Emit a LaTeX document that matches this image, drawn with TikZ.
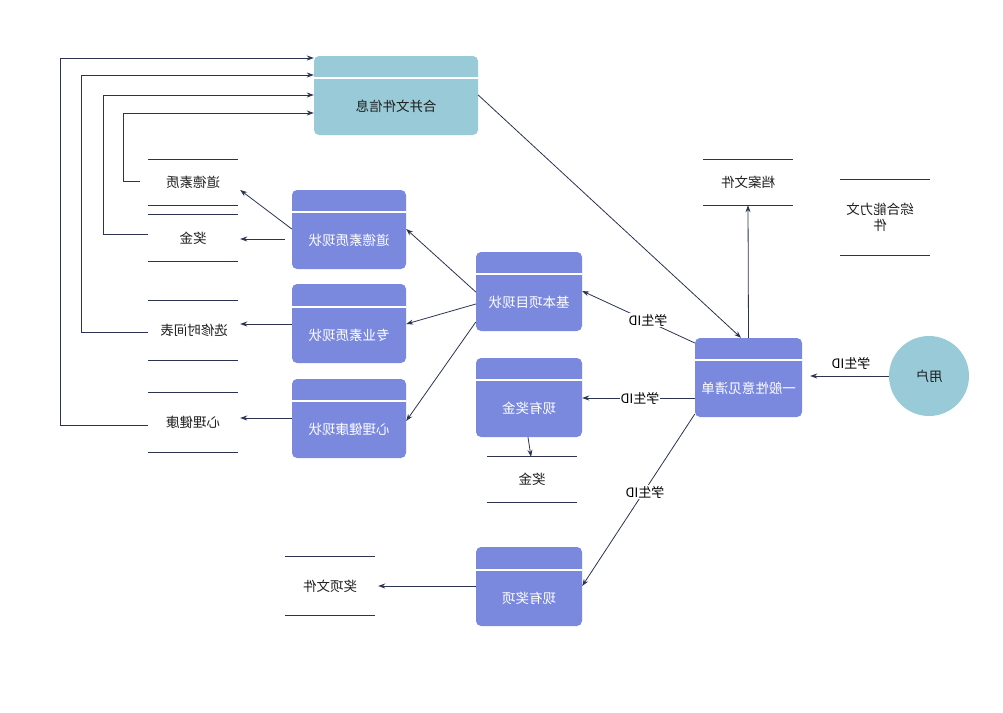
\documentclass[tikz,border=0pt]{standalone}
\usepackage{fontspec}
\setmainfont{Noto Sans CJK SC}
\usetikzlibrary{arrows.meta}
\definecolor{procc}{HTML}{7A89DE}
\definecolor{entc}{HTML}{98CAD8}
\definecolor{lnc}{HTML}{2B3350}
\definecolor{txc}{HTML}{1E1E1E}
\begin{document}
\begin{tikzpicture}[x=1pt,y=-1pt,
  font=\fontsize{13.5}{16}\selectfont,
  procbox/.style={fill=procc, rounded corners=5pt, inner sep=0pt},
  mergebox/.style={fill=entc, rounded corners=5pt, inner sep=0pt},
  divider/.style={draw=white, line width=1.2pt},
  ptext/.style={xscale=-1, text=white, inner sep=0pt},
  dtext/.style={xscale=-1, text=txc, inner sep=0pt},
  store/.style={inner sep=0pt, minimum width=90pt},
  sline/.style={draw=lnc, line width=0.9pt},
  arr/.style={draw=lnc, line width=0.8pt, -{Stealth[length=7pt,width=5pt]}},
  idlab/.style={xscale=-1, fill=white, text=black, inner sep=1pt, font=\fontsize{13}{15}\selectfont}]
\useasboundingbox (0,0) rectangle (1003,712);

% ---- merge box
\node[mergebox, minimum width=164pt, minimum height=79pt] (merge) at (396,95.5) {};
\draw[divider] (merge.west |- 0,78) -- (merge.east |- 0,78);
\node[dtext] (mergetx) at (396,106.5) {合并文件信息};

% ---- processes
\node[procbox, minimum width=114pt, minimum height=79pt] (moral) at (349,229.5) {};
\draw[divider] (moral.west |- 0,212) -- (moral.east |- 0,212);
\node[ptext] (moraltx) at (349,240.5) {道德素质现状};

\node[procbox, minimum width=114pt, minimum height=79pt] (prof) at (349,323.5) {};
\draw[divider] (prof.west |- 0,307) -- (prof.east |- 0,307);
\node[ptext] (proftx) at (349,335) {专业素质现状};

\node[procbox, minimum width=114pt, minimum height=79pt] (psy) at (349,418.5) {};
\draw[divider] (psy.west |- 0,401) -- (psy.east |- 0,401);
\node[ptext] (psytx) at (349,429.5) {心理健康现状};

\node[procbox, minimum width=106pt, minimum height=79pt] (basic) at (529,291.5) {};
\draw[divider] (basic.west |- 0,274) -- (basic.east |- 0,274);
\node[ptext] (basictx) at (529,302.5) {基本项目现状};

\node[procbox, minimum width=106pt, minimum height=79pt] (bonus) at (529,397.5) {};
\draw[divider] (bonus.west |- 0,380) -- (bonus.east |- 0,380);
\node[ptext] (bonustx) at (529,408.5) {现有奖金};

\node[procbox, minimum width=107pt, minimum height=79pt] (general) at (748.5,377.5) {};
\draw[divider] (general.west |- 0,360) -- (general.east |- 0,360);
\node[ptext] (generaltx) at (748.5,388.5) {一般性意见清单};

\node[procbox, minimum width=106pt, minimum height=79pt] (award) at (529,586.5) {};
\draw[divider] (award.west |- 0,570) -- (award.east |- 0,570);
\node[ptext] (awardtx) at (529,598) {现有奖项};

% ---- entity
\node[circle, fill=entc, minimum size=80pt, inner sep=0pt] (user) at (929,376) {};
\node[dtext] (usertx) at (929,376) {用户};

% ---- data stores
\node[store, minimum height=45pt] (smoral) at (193,182.5) {};
\node[dtext] at (193,182.5) {道德素质};
\node[store, minimum height=46pt] (sbonus) at (193,238) {};
\node[dtext] at (193,238) {奖金};
\node[store, minimum height=59pt] (select) at (193,330.5) {};
\node[dtext] at (194,330.5) {选修时间表};
\node[store, minimum height=59pt] (spsy) at (193,422.5) {};
\node[dtext] at (193,422.5) {心理健康};
\node[store, minimum height=45pt] (sarch) at (748,182.5) {};
\node[dtext] at (748,182.5) {档案文件};
\node[store, minimum height=75pt] (scomp) at (885,217.5) {};
\node[dtext, align=center] at (880,217.5) {综合能力文\\件};
\node[store, minimum height=45pt] (sbonus2) at (532,479.5) {};
\node[dtext] at (532,479.5) {奖金};
\node[store, minimum height=58pt] (saward) at (330,586) {};
\node[dtext] at (330,586) {奖项文件};

\foreach \s in {smoral,sbonus,select,spsy,sarch,scomp,sbonus2,saward}{
  \draw[sline] (\s.north west) -- (\s.north east);
  \draw[sline] (\s.south west) -- (\s.south east);
}

% ---- connectors
\draw[arr] (user.west) -- ([xshift=8pt]general.east |- user.west);
\node[idlab] at (851,363) {学生ID};

\draw[arr] (general.north) -- (sarch.south);
\draw[arr] (merge.east |- 0,95) -- (general.north -| 741,0);

\draw[arr] (general.west |- 0,343) -- (basic.east |- 0,291);
\node[idlab] at (648,320) {学生ID};
\draw[arr] (general.west |- 0,398) -- (bonus.east |- 0,398);
\node[idlab] at (640,398) {学生ID};
\draw[arr] (general.west |- 0,414) -- (award.east |- 0,586);
\node[idlab] at (645,492) {学生ID};

\draw[arr] (basic.west |- 0,292) -- (moral.east |- 0,229);
\draw[arr] (basic.west |- 0,304) -- (prof.east |- 0,324);
\draw[arr] (basic.west |- 0,322) -- (psy.east |- 0,421);

\draw[arr] (moral.west |- 0,229) -- ([xshift=2pt]smoral.east |- 0,190);
\draw[arr] ([xshift=-7pt]moral.west |- 0,239) -- ([xshift=2pt]sbonus.east |- 0,239);
\draw[arr] (prof.west |- 0,324) -- ([xshift=2pt]select.east |- 0,324);
\draw[arr] (psy.west |- 0,418) -- ([xshift=2pt]spsy.east |- 0,418);
\draw[arr] (bonus.south -| 528,0) -- (sbonus2.north -| 531,0);
\draw[arr] (award.west |- 0,586) -- ([xshift=3pt]saward.east |- 0,586);

% ---- feedback to merge box
\coordinate (f1) at (140,181);
\coordinate (f2) at (148,234);
\coordinate (f3) at (148,332);
\coordinate (f4) at (148,425);
\draw[arr] (f1) -| (123,113) -- (merge.west |- 0,113);
\draw[arr] (f2) -| (103,95) -- (merge.west |- 0,95);
\draw[arr] (f3) -| (81,75) -- (merge.west |- 0,75);
\draw[arr] (f4) -| (60,58) -- (merge.west |- 0,58);
\end{tikzpicture}
\end{document}
